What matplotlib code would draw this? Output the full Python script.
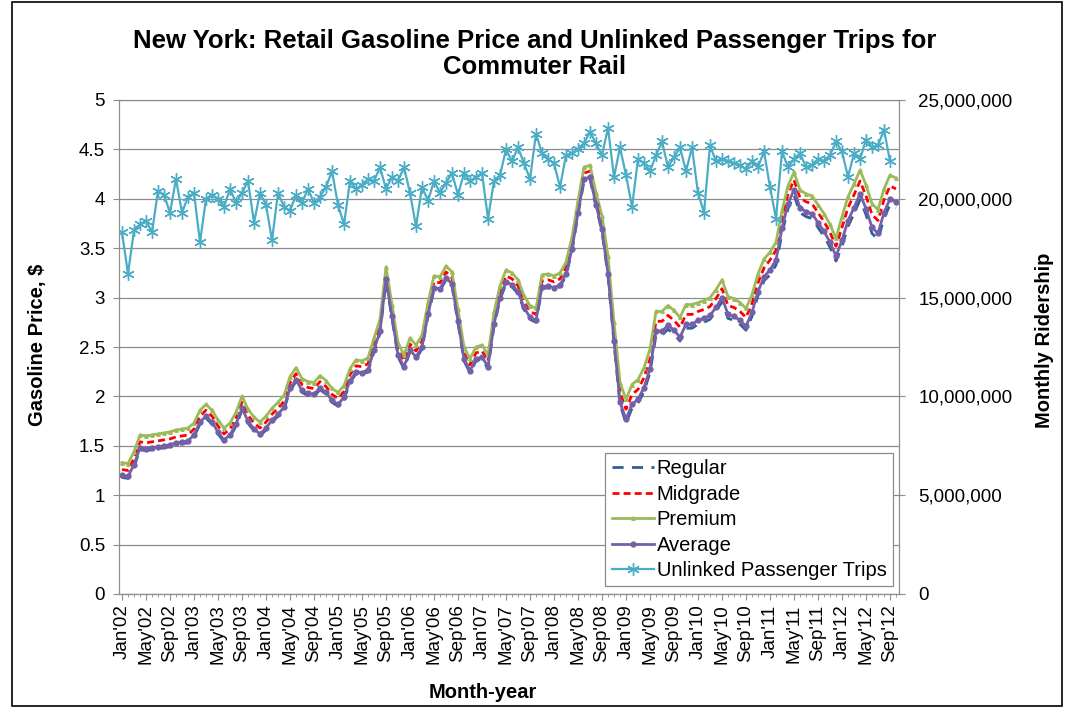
import numpy as np
import matplotlib.pyplot as plt
from matplotlib.ticker import FuncFormatter, MultipleLocator
from matplotlib.patches import Rectangle

plt.rcParams['font.family'] = ['Liberation Sans', 'DejaVu Sans']

# tick labels, one every 4 months (Jan'02 .. Sep'12)
tick_labels = ["Jan'02", "May'02", "Sep'02", "Jan'03", "May'03", "Sep'03",
               "Jan'04", "May'04", "Sep'04", "Jan'05", "May'05", "Sep'05",
               "Jan'06", "May'06", "Sep'06", "Jan'07", "May'07", "Sep'07",
               "Jan'08", "May'08", "Sep'08", "Jan'09", "May'09", "Sep'09",
               "Jan'10", "May'10", "Sep'10", "Jan'11", "May'11", "Sep'11",
               "Jan'12", "May'12", "Sep'12"]

# monthly retail gasoline price, $ per gallon (Jan'02 .. Oct'12)
regular = [1.18, 1.17, 1.29, 1.46, 1.45, 1.46, 1.47, 1.48, 1.49, 1.51, 1.52, 1.53,
           1.59, 1.72, 1.78, 1.72, 1.62, 1.54, 1.59, 1.70, 1.86, 1.73, 1.65, 1.60,
           1.66, 1.74, 1.80, 1.87, 2.06, 2.15, 2.04, 2.01, 2.00, 2.07, 2.02, 1.94,
           1.90, 1.97, 2.14, 2.23, 2.22, 2.25, 2.45, 2.64, 3.17, 2.79, 2.40, 2.28,
           2.45, 2.38, 2.48, 2.81, 3.08, 3.07, 3.18, 3.12, 2.74, 2.36, 2.24, 2.36,
           2.38, 2.28, 2.71, 2.98, 3.14, 3.11, 3.04, 2.88, 2.78, 2.75, 3.09, 3.10,
           3.08, 3.11, 3.22, 3.47, 3.84, 4.18, 4.20, 3.92, 3.67, 3.22, 2.54, 1.92,
           1.73, 1.88, 1.93, 2.05, 2.24, 2.62, 2.62, 2.68, 2.63, 2.56, 2.69, 2.69,
           2.73, 2.75, 2.78, 2.86, 2.96, 2.79, 2.77, 2.73, 2.67, 2.81, 3.02, 3.17,
           3.23, 3.33, 3.65, 3.90, 4.04, 3.86, 3.82, 3.80, 3.71, 3.62, 3.51, 3.37,
           3.52, 3.72, 3.85, 3.99, 3.84, 3.65, 3.59, 3.80, 3.94, 3.91]

midgrade = [1.26, 1.25, 1.37, 1.54, 1.53, 1.54, 1.55, 1.56, 1.57, 1.59, 1.60, 1.61,
            1.67, 1.80, 1.86, 1.80, 1.70, 1.62, 1.67, 1.78, 1.94, 1.81, 1.73, 1.68,
            1.74, 1.82, 1.88, 1.95, 2.14, 2.23, 2.12, 2.09, 2.08, 2.15, 2.10, 2.02,
            1.98, 2.05, 2.22, 2.31, 2.30, 2.33, 2.53, 2.72, 3.25, 2.87, 2.48, 2.36,
            2.53, 2.46, 2.56, 2.89, 3.16, 3.15, 3.26, 3.20, 2.82, 2.44, 2.32, 2.44,
            2.46, 2.36, 2.79, 3.06, 3.22, 3.19, 3.12, 2.96, 2.86, 2.83, 3.17, 3.18,
            3.16, 3.19, 3.30, 3.55, 3.92, 4.26, 4.28, 4.00, 3.76, 3.33, 2.65, 2.04,
            1.87, 2.02, 2.07, 2.19, 2.38, 2.76, 2.76, 2.82, 2.77, 2.70, 2.83, 2.83,
            2.86, 2.88, 2.91, 2.99, 3.09, 2.92, 2.90, 2.86, 2.80, 2.94, 3.15, 3.30,
            3.38, 3.48, 3.80, 4.05, 4.19, 4.01, 3.97, 3.95, 3.86, 3.77, 3.66, 3.52,
            3.71, 3.91, 4.04, 4.18, 4.03, 3.84, 3.78, 3.99, 4.13, 4.10]

premium = [1.33, 1.32, 1.44, 1.61, 1.60, 1.61, 1.62, 1.63, 1.64, 1.66, 1.67, 1.68,
           1.73, 1.86, 1.92, 1.86, 1.76, 1.68, 1.73, 1.84, 2.00, 1.87, 1.79, 1.74,
           1.80, 1.88, 1.94, 2.01, 2.20, 2.29, 2.18, 2.15, 2.14, 2.21, 2.16, 2.08,
           2.04, 2.11, 2.28, 2.37, 2.36, 2.39, 2.59, 2.78, 3.31, 2.93, 2.54, 2.42,
           2.59, 2.52, 2.62, 2.95, 3.22, 3.21, 3.32, 3.26, 2.88, 2.50, 2.38, 2.50,
           2.52, 2.42, 2.85, 3.12, 3.28, 3.25, 3.18, 3.02, 2.92, 2.89, 3.23, 3.24,
           3.22, 3.25, 3.36, 3.61, 3.98, 4.32, 4.34, 4.06, 3.83, 3.42, 2.75, 2.14,
           1.97, 2.12, 2.17, 2.29, 2.48, 2.86, 2.86, 2.92, 2.87, 2.80, 2.93, 2.93,
           2.95, 2.97, 3.00, 3.08, 3.18, 3.01, 2.99, 2.95, 2.89, 3.03, 3.24, 3.39,
           3.46, 3.56, 3.88, 4.13, 4.27, 4.09, 4.05, 4.03, 3.94, 3.85, 3.74, 3.60,
           3.82, 4.02, 4.15, 4.29, 4.14, 3.95, 3.89, 4.10, 4.24, 4.21]

average = [1.20, 1.19, 1.31, 1.48, 1.47, 1.48, 1.49, 1.50, 1.51, 1.53, 1.54, 1.55,
           1.61, 1.74, 1.80, 1.74, 1.64, 1.56, 1.61, 1.72, 1.88, 1.75, 1.67, 1.62,
           1.68, 1.76, 1.82, 1.89, 2.08, 2.17, 2.06, 2.03, 2.02, 2.09, 2.04, 1.96,
           1.92, 1.99, 2.16, 2.25, 2.24, 2.27, 2.47, 2.66, 3.19, 2.81, 2.42, 2.30,
           2.47, 2.40, 2.50, 2.83, 3.10, 3.09, 3.20, 3.14, 2.76, 2.38, 2.26, 2.38,
           2.40, 2.30, 2.73, 3.00, 3.16, 3.13, 3.06, 2.90, 2.80, 2.77, 3.11, 3.12,
           3.10, 3.13, 3.24, 3.49, 3.86, 4.20, 4.22, 3.94, 3.69, 3.24, 2.56, 1.94,
           1.77, 1.92, 1.97, 2.09, 2.28, 2.66, 2.66, 2.72, 2.67, 2.60, 2.73, 2.73,
           2.77, 2.79, 2.82, 2.90, 3.00, 2.83, 2.81, 2.77, 2.71, 2.85, 3.06, 3.21,
           3.28, 3.38, 3.70, 3.95, 4.09, 3.91, 3.87, 3.85, 3.76, 3.67, 3.56, 3.42,
           3.58, 3.78, 3.91, 4.05, 3.90, 3.71, 3.65, 3.86, 4.00, 3.97]

# unlinked passenger trips, millions per month
trips = [18.3, 16.2, 18.4, 18.7, 18.9, 18.3, 20.4, 20.2, 19.3, 21.0, 19.3, 20.1,
         20.3, 17.8, 20.0, 20.2, 20.0, 19.6, 20.5, 19.8, 20.3, 20.9, 18.8, 20.3,
         19.7, 17.9, 20.3, 19.6, 19.4, 20.2, 19.8, 20.5, 19.8, 20.1, 20.6, 21.4,
         19.7, 18.7, 20.9, 20.5, 20.7, 21.0, 20.9, 21.6, 20.5, 21.1, 20.9, 21.6,
         20.3, 18.6, 20.6, 19.9, 20.9, 20.3, 20.8, 21.3, 20.2, 21.3, 20.9, 21.1,
         21.3, 19.0, 20.9, 21.2, 22.5, 21.9, 22.6, 21.8, 21.0, 23.3, 22.3, 22.0,
         21.8, 20.6, 22.2, 22.3, 22.5, 22.8, 23.4, 22.8, 22.2, 23.6, 21.1, 22.6,
         21.2, 19.6, 22.0, 21.8, 21.4, 22.2, 22.9, 21.6, 22.1, 22.6, 21.4, 22.6,
         20.3, 19.3, 22.7, 21.9, 22.0, 21.9, 21.8, 21.7, 21.5, 21.9, 21.6, 22.4,
         20.6, 19.0, 22.4, 21.6, 22.0, 22.3, 21.6, 21.7, 22.0, 21.9, 22.2, 22.9,
         22.4, 21.1, 22.3, 22.0, 23.0, 22.6, 22.7, 23.5, 21.9, np.nan]

x = np.arange(len(regular))
grid_c = '#8c8c8c'
fs = 13.5

fig = plt.figure(figsize=(10.68, 7.07), dpi=100)
fig.patches.append(Rectangle((12 / 1068, 0.002), 1050 / 1068, 0.995,
                             transform=fig.transFigure, fill=False,
                             edgecolor='black', lw=1.2))

ax = fig.add_axes([119 / 1068, 1 - 594 / 707, 780 / 1068, 494 / 707])
ax.set_xlim(-0.5, len(regular) - 0.5)
ax.set_ylim(0, 5)
ax.yaxis.set_major_locator(MultipleLocator(0.5))
ax.yaxis.set_major_formatter(FuncFormatter(lambda v, p: f'{v:g}'))
ax.yaxis.grid(True, color=grid_c, lw=0.9)
ax.set_axisbelow(True)

ax.set_xticks(np.arange(0, len(regular), 4))
ax.set_xticklabels(tick_labels, rotation=90)
ax.xaxis.set_minor_locator(MultipleLocator(1))

l1, = ax.plot(x, regular, color='#2f5f9a', lw=2, ls=(0, (4, 3)), label='Regular')
l2, = ax.plot(x, midgrade, color='#ff0000', lw=2, ls=(0, (2.5, 1.5)), label='Midgrade')
l3, = ax.plot(x, premium, color='#9bbb59', lw=2, marker='^', ms=2.5, label='Premium')
l4, = ax.plot(x, average, color='#7560a8', lw=2, marker='o', ms=3.5, label='Average')

ax2 = ax.twinx()
ax2.set_ylim(0, 25)
ax2.yaxis.set_major_locator(MultipleLocator(5))
ax2.yaxis.set_major_formatter(FuncFormatter(lambda v, p: f'{v * 1e6:,.0f}'))
l5, = ax2.plot(x, trips, color='#4bacc6', lw=1.6, marker=(6, 2, 0), ms=9, mew=1.0,
               label='Unlinked Passenger Trips')

for a in (ax, ax2):
    for s in a.spines.values():
        s.set_color(grid_c)
    a.tick_params(which='both', color=grid_c, labelsize=fs)
    a.tick_params(which='major', length=4)
    a.tick_params(which='minor', length=2.5)
ax2.tick_params(axis='y', pad=10)
ax.tick_params(axis='y', pad=6)

leg = ax2.legend([l1, l2, l3, l4, l5], [h.get_label() for h in (l1, l2, l3, l4, l5)],
                 loc='lower right', bbox_to_anchor=(0.992, 0.016), fancybox=False,
                 edgecolor=grid_c, fontsize=14.5, handlelength=2.1, borderpad=0.3,
                 labelspacing=0.32, handletextpad=0.15, borderaxespad=0, framealpha=1)
leg.get_frame().set_linewidth(0.9)

fig.text(535 / 1068, 1 - 54 / 707,
         'New York: Retail Gasoline Price and Unlinked Passenger Trips for\nCommuter Rail',
         ha='center', va='center', fontsize=18.5, fontweight='bold', linespacing=1.1)
fig.text(38 / 1068, 1 - 345 / 707, 'Gasoline Price, $', rotation=90,
         ha='center', va='center', fontsize=14.5, fontweight='bold')
fig.text(1045 / 1068, 1 - 340 / 707, 'Monthly Ridership', rotation=90,
         ha='center', va='center', fontsize=14.5, fontweight='bold')
fig.text(483 / 1068, 1 - 693 / 707, 'Month-year',
         ha='center', va='center', fontsize=14.5, fontweight='bold')

fig.savefig('out.png', dpi=100)
